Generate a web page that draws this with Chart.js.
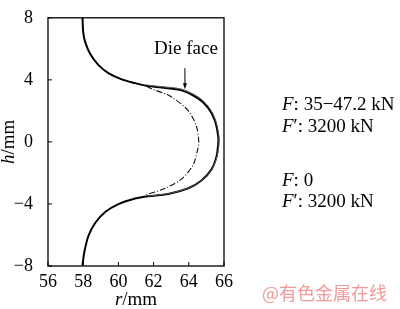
<!DOCTYPE html>
<html><head><meta charset="utf-8">
<script src="https://cdn.jsdelivr.net/npm/chart.js@4/dist/chart.umd.min.js"></script>
<style>html,body{margin:0;padding:0;background:#fff}#w{width:400px;height:309px}</style>
</head><body><div id="w"><canvas id="c" width="400" height="309"></canvas></div>
<script>
const xTicks = [56, 58, 60, 62, 64, 66];
const yTicks = [-8, -4, 0, 4, 8];
// loaded profile (F: 35-47.2 kN, F': 3200 kN) - solid
const loadedR = [57.96, 58.0, 58.1, 58.4, 58.87, 59.43, 60.19, 60.95, 61.6, 62.45, 63.6, 64.53, 65.1, 65.48, 65.67, 65.67, 65.57, 65.29, 64.72, 63.97, 62.83, 61.7, 60.95, 60.0, 59.25, 58.68, 58.3, 58.07, 57.96];
const loadedH = [8.0, 7.09, 6.48, 5.66, 4.95, 4.44, 4.03, 3.79, 3.62, 3.5, 3.32, 2.81, 2.2, 1.39, 0.37, -0.14, -0.96, -1.77, -2.49, -2.99, -3.36, -3.5, -3.65, -4.01, -4.52, -5.23, -6.05, -7.07, -7.95];
// die face - thin
const dieR = [61.6, 62.45, 63.6, 64.6, 65.15, 65.52, 65.72, 65.6, 65.3, 64.75, 64.0, 62.85, 61.7];
const dieH = [3.66, 3.56, 3.4, 2.85, 2.22, 1.4, 0.2, -0.96, -1.77, -2.47, -2.97, -3.33, -3.5];
// F: 0, F': 3200 kN - dash-dot
const unloadedR = [61.6, 61.9, 63.0, 63.97, 64.44, 64.57, 64.53, 64.25, 63.6, 62.65, 61.5];
const unloadedH = [3.58, 3.42, 2.91, 2.0, 0.98, -0.04, -0.35, -1.47, -2.38, -2.99, -3.44];

const pts = (xs, ys) => xs.map((x, i) => ({x: x, y: ys[i]}));
const SERIF = '"Liberation Serif", "DejaVu Serif", serif';

const deco = {
  id: 'deco',
  afterDraw(chart) {
    const ctx = chart.ctx, a = chart.chartArea;
    const xs = chart.scales.x, ys = chart.scales.y;
    ctx.save();
    ctx.strokeStyle = '#000'; ctx.lineWidth = 1.3;
    ctx.strokeRect(a.left, a.top, a.right - a.left, a.bottom - a.top);
    ctx.lineWidth = 1;
    xTicks.forEach(v => { const p = xs.getPixelForValue(v); ctx.beginPath(); ctx.moveTo(p, a.bottom); ctx.lineTo(p, a.bottom - 4); ctx.stroke(); });
    yTicks.forEach(v => { const p = ys.getPixelForValue(v); ctx.beginPath(); ctx.moveTo(a.left, p); ctx.lineTo(a.left + 4, p); ctx.stroke(); });
    // arrow for die face
    const ax = xs.getPixelForValue(63.78);
    const y1 = ys.getPixelForValue(4.75), y2 = ys.getPixelForValue(3.4);
    ctx.beginPath(); ctx.moveTo(ax, y1); ctx.lineTo(ax, y2 - 4); ctx.stroke();
    ctx.beginPath(); ctx.moveTo(ax, y2); ctx.lineTo(ax - 2, y2 - 6); ctx.lineTo(ax + 2, y2 - 6); ctx.closePath(); ctx.fillStyle = '#000'; ctx.fill();
    ctx.fillStyle = '#000';
    ctx.textBaseline = 'middle';
    ctx.font = '19px ' + SERIF;
    ctx.textAlign = 'center';
    ctx.fillText('Die face', 186, 49);
    function mixed(parts, x, y, size) {
      ctx.textAlign = 'left';
      parts.forEach(([t, it]) => {
        ctx.font = (it ? 'italic ' : '') + size + 'px ' + SERIF;
        ctx.fillText(t, x, y);
        x += ctx.measureText(t).width;
      });
    }
    function width(parts, size) {
      let w = 0;
      parts.forEach(([t, it]) => { ctx.font = (it ? 'italic ' : '') + size + 'px ' + SERIF; w += ctx.measureText(t).width; });
      return w;
    }
    mixed([['F', true], [': 35\u221247.2 kN', false]], 282, 105, 19);
    mixed([['F', true], ['\u2032: 3200 kN', false]], 282, 127, 19);
    mixed([['F', true], [': 0', false]], 282, 181, 19);
    mixed([['F', true], ['\u2032: 3200 kN', false]], 282, 202, 19);
    // x axis title
    const rp = [['r', true], ['/mm', false]];
    mixed(rp, (a.left + a.right) / 2 - width(rp, 19) / 2, 300, 19);
    // y axis title
    ctx.save();
    ctx.translate(9, (a.top + a.bottom) / 2);
    ctx.rotate(-Math.PI / 2);
    const hp = [['h', true], ['/mm', false]];
    mixed(hp, -width(hp, 19) / 2, 0, 19);
    ctx.restore();
    // watermark
    ctx.font = '18px "Noto Sans CJK SC", sans-serif';
    ctx.fillStyle = 'rgba(236,120,120,0.75)';
    ctx.textAlign = 'left';
    ctx.fillText('@有色金属在线', 262, 293);
    ctx.restore();
  }
};

new Chart(document.getElementById('c'), {
  type: 'scatter',
  data: {
    datasets: [
      {label: 'Die face', data: pts(dieR, dieH), showLine: true, borderColor: '#555', borderWidth: 1, pointRadius: 0, tension: 0.3, fill: false},
      {label: 'F: 35-47.2 kN', data: pts(loadedR, loadedH), showLine: true, borderColor: '#000', borderWidth: 2, pointRadius: 0, tension: 0.3, fill: false},
      {label: 'F: 0', data: pts(unloadedR, unloadedH), showLine: true, borderColor: '#111', borderWidth: 1.1, borderDash: [6, 2, 1, 2], pointRadius: 0, tension: 0.3, fill: false}
    ]
  },
  options: {
    responsive: false, animation: false, devicePixelRatio: 1,
    layout: {padding: {left: 0, right: 176, top: 5, bottom: 0}},
    plugins: {legend: {display: false}, tooltip: {enabled: false}},
    scales: {
      x: {
        type: 'linear', min: 56, max: 66,
        afterBuildTicks: s => { s.ticks = xTicks.map(v => ({value: v})); },
        afterFit: s => { s.height = 43; },
        grid: {display: false}, border: {display: false},
        ticks: {color: '#000', font: {family: SERIF, size: 18}, padding: -3, maxRotation: 0, autoSkip: false}
      },
      y: {
        type: 'linear', min: -8, max: 8,
        afterBuildTicks: s => { s.ticks = yTicks.map(v => ({value: v})); },
        afterFit: s => { s.width = 48; },
        grid: {display: false}, border: {display: false},
        ticks: {color: '#000', font: {family: SERIF, size: 18}, padding: 7, autoSkip: false,
          callback: v => (v < 0 ? '\u2212' + Math.abs(v) : String(v))}
      }
    }
  },
  plugins: [deco]
});
</script></body></html>
